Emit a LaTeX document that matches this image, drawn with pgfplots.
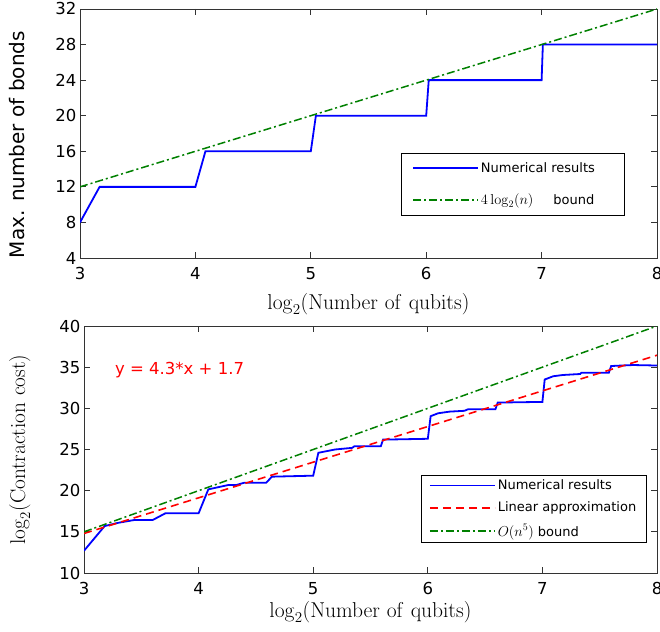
\RequirePackage{fix-cm}
\documentclass[border=0pt]{standalone}
\usepackage[no-math]{fontspec}
\setmainfont{DejaVu Sans}
\usepackage{pgfplots}
\pgfplotsset{compat=1.18}

\definecolor{mblue}{RGB}{0,0,255}
\definecolor{mgreen}{RGB}{0,128,0}
\definecolor{mred}{RGB}{255,0,0}

\newcommand{\lmath}[1]{{\fontsize{14.4}{15}\selectfont$#1$}}

\pgfplotsset{
  matstyle/.style={
    scale only axis,
    axis line style={black!80, line width=0.8pt},
    every tick/.style={black!80, line width=0.8pt},
    major tick length=6pt,
    tick align=inside,
    xmin=3, xmax=8, xtick={3,4,5,6,7,8},
    /pgf/number format/assume math mode=true,
    tick label style={font=\fontsize{16.5}{18}\selectfont},
    xticklabel style={yshift=-6pt},
    legend cell align=left,
    legend style={font=\fontsize{13}{15}\selectfont, draw=black, line width=0.6pt},
    legend image code/.code={\draw[#1] (0pt,0pt) -- (65pt,0pt);},
  },
  bluel/.style={draw=mblue, line width=1.8pt},
  greenl/.style={draw=mgreen, line width=1.5pt, dash pattern=on 8pt off 3pt on 2pt off 3pt},
  redl/.style={draw=mred, line width=1.6pt, dash pattern=on 8pt off 5pt},
}

\begin{document}
\begin{tikzpicture}
\useasboundingbox (0,0) rectangle (660pt,631pt);

% top panel
\begin{axis}[matstyle,
  at={(80pt,373pt)}, anchor=south west,
  width=577pt, height=249pt,
  ymin=4, ymax=32, ytick={4,8,12,16,20,24,28,32},
  xlabel={$\log_2(\mathrm{Number\ of\ qubits})$},
  xlabel style={font=\fontsize{21.5}{24}\selectfont, at={(axis description cs:0.5,-0.185)}, anchor=center},
  ylabel={Max. number of bonds},
  ylabel style={font=\fontsize{20}{24}\selectfont, at={(axis description cs:-0.109,0.455)}, anchor=center},
  legend style={at={(0.556,0.4217)}, anchor=north west, inner xsep=11pt, inner ysep=7pt, row sep=16pt},
]
\addplot[bluel, forget plot] coordinates {
  (3,8) (3.17,12) (4,12) (4.087,16) (5,16) (5.044,20) (6,20) (6.022,24) (7,24) (7.011,28) (8,28)
};
\addplot[greenl, forget plot] coordinates {(3,12) (8,32)};
\addlegendimage{bluel}
\addlegendentry{Numerical results\hspace{16pt}\mbox{}}
\addlegendimage{greenl}
\addlegendentry{\lmath{4\log_2(n)}\hspace{20pt}bound}
\end{axis}

% bottom panel
\begin{axis}[matstyle,
  at={(84pt,58pt)}, anchor=south west,
  width=573pt, height=247pt,
  ymin=10, ymax=40, ytick={10,15,20,25,30,35,40},
  xlabel={$\log_2(\mathrm{Number\ of\ qubits})$},
  xlabel style={font=\fontsize{21.5}{24}\selectfont, at={(axis description cs:0.5,-0.158)}, anchor=center},
  ylabel={$\log_2(\mathrm{Contraction\ cost})$},
  ylabel style={font=\fontsize{21.3}{24}\selectfont, at={(axis description cs:-0.112,0.5)}, anchor=center},
  legend style={at={(0.5876,0.397)}, anchor=north west, inner xsep=8pt, row sep=7pt, inner ysep=2.5pt},
]
\addplot[bluel, forget plot] coordinates {
  (3.0,12.7) (3.18,15.7) (3.30,16.1) (3.44,16.44) (3.60,16.44) (3.71,17.25) (4.0,17.25)
  (4.085,20.16) (4.26,20.69) (4.33,20.69) (4.40,20.97) (4.59,20.97) (4.64,21.7) (5.0,21.82)
  (5.045,24.6) (5.19,25.0) (5.34,25.2) (5.36,25.4) (5.59,25.4) (5.61,26.2) (6.0,26.3)
  (6.025,29.05) (6.09,29.4) (6.19,29.6) (6.32,29.7) (6.35,29.88) (6.59,29.88) (6.61,30.7) (7.0,30.78)
  (7.02,33.5) (7.095,33.9) (7.18,34.05) (7.33,34.17) (7.34,34.33) (7.58,34.33) (7.60,35.14)
  (7.79,35.26) (8.0,35.2)
};
\addplot[redl, forget plot] coordinates {(3,14.8) (8,36.45)};
\addplot[greenl, forget plot] coordinates {(3,15) (8,40)};
\addlegendimage{bluel}
\addlegendentry{Numerical results}
\addlegendimage{redl}
\addlegendentry{Linear approximation}
\addlegendimage{greenl}
\addlegendentry{\lmath{O(n^5)} bound}
\node[anchor=west, mred, font=\fontsize{16.5}{20}\selectfont, inner sep=0pt] at (axis cs:3.27,34.65) {y = 4.3*x + 1.7};
\end{axis}
\end{tikzpicture}
\end{document}
